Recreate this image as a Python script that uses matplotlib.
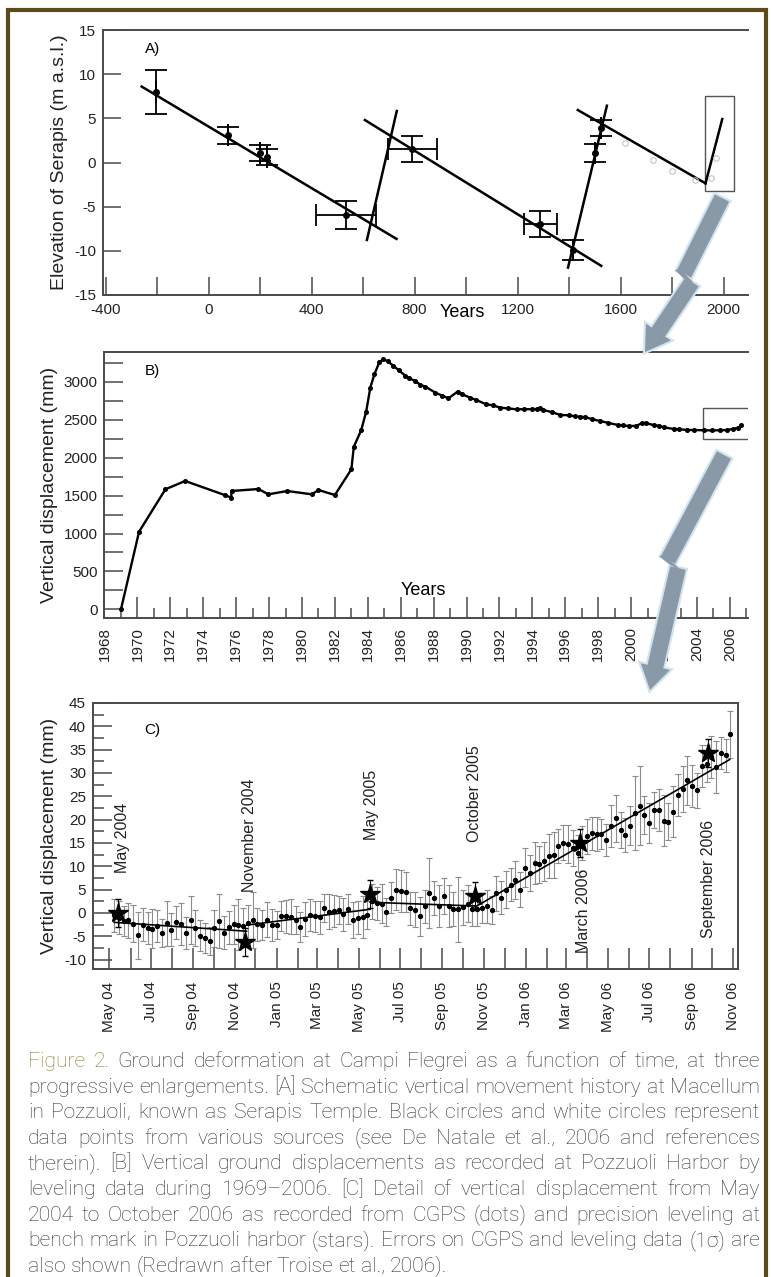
import numpy as np
import pandas as pd
import matplotlib
matplotlib.use("Agg")
import matplotlib.pyplot as plt
import matplotlib.dates as mdates
from matplotlib.ticker import MultipleLocator
from matplotlib.patches import Rectangle, Polygon

plt.rcParams["font.family"] = ["Liberation Sans", "DejaVu Sans"]
plt.rcParams["axes.unicode_minus"] = False

W, H = 771, 1277
SPINE = "#4a4a4a"
GOLD = "#8c7a32"
FRAME = "#5a4a1c"
ARROW = "#8a99a7"
GLOW = "#d3e4ee"

# ---- A) Serapis temple elevation (schematic) ----
a_year = [-205, 75, 198, 228, 534, 791, 1289, 1415, 1500, 1525]
a_elev = [8.0, 3.1, 1.05, 0.66, -5.94, 1.53, -6.96, -9.9, 1.05, 3.9]
a_yerr = [2.5, 0.95, 0.9, 0.9, 1.55, 1.5, 1.5, 1.1, 1.0, 0.95]
a_xerr = [0, 0, 0, 0, 118, 95, 65, 0, 0, 0]
a_open_year = [1618, 1727, 1798, 1888, 1953, 1972]
a_open_elev = [2.2, 0.3, -1.0, -2.0, -1.8, 0.5]
a_seg_x0 = [-260, 615, 607, 1396, 1434, 1930]
a_seg_y0 = [8.6, -8.77, 4.81, -11.9, 5.94, -2.36]
a_seg_x1 = [730, 731, 1525, 1547, 1930, 1995]
a_seg_y1 = [-8.65, 5.83, -11.7, 6.43, -2.36, 4.92]
a_box = (1927, -3.19, 2041, 7.56)

# ---- B) Pozzuoli harbour leveling ----
b_year = [1969.0, 1970.1, 1971.7, 1972.9, 1975.3, 1975.7, 1975.72, 1977.35, 1977.96,
          1979.1, 1980.6, 1981.0, 1982.0, 1983.0, 1983.15, 1983.6, 1983.9, 1984.15,
          1984.4, 1984.7, 1984.95, 1985.2, 1985.55, 1985.9, 1986.27, 1986.5, 1986.87,
          1987.2, 1987.5, 1988.1, 1988.5, 1988.9, 1989.45, 1989.7, 1990.2, 1990.6,
          1991.2, 1991.6, 1992.05, 1992.5, 1993.06, 1993.5, 1994.0, 1994.27, 1994.45,
          1994.67, 1995.2, 1995.7, 1996.2, 1996.6, 1996.9, 1997.2, 1997.6, 1998.1,
          1998.6, 1999.2, 1999.5, 1999.85, 2000.3, 2000.65, 2000.9, 2001.36, 2001.7,
          2002.0, 2002.58, 2002.9, 2003.4, 2003.8, 2004.4, 2004.9, 2005.4, 2005.8,
          2006.2, 2006.5, 2006.7]
b_disp = [0, 1024, 1583, 1693, 1508, 1473, 1561, 1587, 1517,
          1561, 1517, 1574, 1508, 1847, 2145, 2365, 2607, 2924,
          3100, 3260, 3302, 3270, 3214, 3150, 3082, 3050, 3012,
          2960, 2937, 2858, 2820, 2783, 2871, 2840, 2792, 2760,
          2704, 2690, 2660, 2650, 2638, 2640, 2640, 2642, 2655,
          2629, 2600, 2563, 2560, 2545, 2541, 2535, 2510, 2484,
          2460, 2431, 2425, 2418, 2420, 2454, 2455, 2431, 2420,
          2400, 2379, 2375, 2366, 2365, 2362, 2360, 2362, 2365,
          2379, 2395, 2431]
b_box = (2004.36, 2243, 2008.5, 2660)

# ---- C) CGPS (weekly) and leveling stars ----
c_start = "2004-05-08"
c_disp = [-0.5, -1.0, -1.8, -1.6, -2.3, -4.8, -2.5, -3.2, -3.4, -2.8, -4.2, -2.2, -3.6, -2.0,
          -2.3, -4.3, -1.5, -3.2, -4.9, -5.4, -5.9, -3.3, -1.8, -4.2, -3.1, -2.4, -2.5, -2.8,
          -2.2, -1.5, -2.4, -2.6, -1.4, -2.6, -2.6, -0.6, -0.7, -0.8, -1.6, -3.0, -1.3, -0.4,
          -0.7, -0.9, 1.0, 0.3, 0.4, 0.7, -0.3, 0.9, -1.5, -1.0, -0.8, -0.4,
          2.5, 2.1, 2.0, 0.2, 3.3, 5.0, 4.8, 4.5, 1.0, 0.7, -0.7, 1.4, 4.2, 3.2, 1.4, 3.6,
          1.5, 0.8, 0.8, 1.2, 2.0, 0.8,
          0.8, 1.1, 1.4, 0.7, 4.2, 3.3, 5.0, 6.1, 7.1, 5.0, 9.7, 8.6, 10.7, 10.4, 11.1, 12.2,
          12.4, 14.4, 15.1,
          14.8, 13.9, 12.8, 15.0, 16.4, 17.1, 16.9, 16.9, 15.7, 18.7, 20.3, 17.8, 16.7, 18.7,
          21.4, 23.0, 21.0, 19.3, 22.1, 22.1, 19.8, 19.6, 21.7, 25.2, 26.6, 28.4, 27.3, 26.3,
          31.6, 32.0, 33.4, 31.3, 34.3, 33.8, 38.3]
c_err = [3.5, 3.5, 3.2, 3.8, 4.0, 5.0, 3.6, 3.4, 4.2, 3.5, 3.0, 4.8, 3.5, 3.6, 4.5, 3.5, 5.2,
         3.8, 3.3, 3.2, 3.0, 4.0, 5.8, 3.5, 3.6, 4.2, 5.5, 3.8,
         4.0, 6.0, 3.5, 3.2, 3.8, 3.5, 3.0, 3.2, 3.5, 3.8, 3.0, 3.2, 3.6, 3.4, 3.3, 3.5, 3.0,
         3.8, 3.5, 3.0, 3.6, 3.2, 3.8, 3.5, 4.5, 3.0,
         3.8, 3.5, 4.2, 3.0, 3.4, 4.4, 4.5, 4.2, 3.6, 3.8, 4.2, 3.5, 7.5, 3.6, 4.5, 3.8, 4.5,
         3.6, 7.0, 3.8, 4.0, 3.5,
         3.5, 3.2, 3.6, 3.0, 3.8, 3.5, 4.0, 3.6, 4.0, 3.8, 4.2, 3.8, 4.5, 4.0, 4.2, 4.8, 5.0,
         3.6, 3.8,
         4.0, 3.8, 4.0, 3.6, 3.8, 3.5, 3.6, 3.2, 3.4, 4.5, 5.0, 3.8, 3.6, 4.2, 8.0, 8.5, 4.0,
         4.2, 3.8, 4.5, 5.5, 4.0, 5.5, 4.5, 5.0, 5.2, 4.5, 3.8, 4.5, 4.0, 4.5, 5.5, 3.5, 3.5,
         5.0]
star_date = ["2004-05-14", "2004-11-16", "2005-05-18", "2005-10-19", "2006-03-22", "2006-09-25"]
star_disp = [0.0, -6.3, 4.0, 3.7, 15.0, 34.3]
star_err = [3.0, 3.0, 3.0, 3.0, 3.0, 3.0]
event_text = ["May 2004", "November 2004", "May 2005", "October 2005", "March 2006", "September 2006"]
event_date = ["2004-05-20", "2004-11-22", "2005-05-20", "2005-10-18", "2006-03-26", "2006-09-26"]
event_base = [8.6, 4.6, 15.7, 15.3, -8.5, -5.3]
c_seg_d0 = ["2004-05-08", "2004-11-18", "2005-05-18", "2005-10-19"]
c_seg_v0 = [-2.0, -2.6, 2.3, 1.3]
c_seg_d1 = ["2004-11-18", "2005-05-18", "2005-10-19", "2006-10-27"]
c_seg_v1 = [-3.9, 0.8, 1.5, 32.9]

caption = [
    "Figure 2. Ground deformation at Campi Flegrei as a function of time, at three",
    "progressive enlargements. [A] Schematic vertical movement history at Macellum",
    "in Pozzuoli, known as Serapis Temple. Black circles and white circles represent",
    "data points from various sources (see De Natale et al., 2006 and references",
    "therein). [B] Vertical ground displacements as recorded at Pozzuoli Harbor by",
    "leveling data during 1969\u20132006. [C] Detail of vertical displacement from May",
    "2004 to October 2006 as recorded from CGPS (dots) and precision leveling at",
    "bench mark in Pozzuoli harbor (stars). Errors on CGPS and leveling data (1\u03c3) are",
    "also shown (Redrawn after Troise et al., 2006).",
]


def frac(x, y):
    return x / W, 1 - y / H


def style(ax, ylabel):
    for s in ax.spines.values():
        s.set_color(SPINE)
        s.set_linewidth(1.4)
    ax.tick_params(which="both", direction="in", color=SPINE, width=1.1, labelsize=11,
                   labelcolor="#222222")
    ax.set_ylabel(ylabel, fontsize=14, color="#222222")


fig = plt.figure(figsize=(W / 100, H / 100), dpi=100)
fig.patch.set_facecolor("white")

# ---------------- A ----------------
axA = fig.add_axes([103 / W, 1 - 295 / H, 645 / W, 265 / H])
style(axA, "Elevation of Serapis (m a.s.l.)")
axA.spines["right"].set_visible(False)
for x0, y0, x1, y1 in zip(a_seg_x0, a_seg_y0, a_seg_x1, a_seg_y1):
    axA.plot([x0, x1], [y0, y1], color="black", lw=1.8)
axA.errorbar(a_year, a_elev, yerr=a_yerr, xerr=a_xerr, fmt="o", ms=4, color="black",
             ecolor="black", elinewidth=1.3, capsize=8, capthick=1.3)
axA.plot(a_open_year, a_open_elev, "o", ms=4, mfc="none", mec="#c4c4c4", mew=0.8)
axA.add_patch(Rectangle((a_box[0], a_box[1]), a_box[2] - a_box[0], a_box[3] - a_box[1],
                        fill=False, ec="#555555", lw=1.0))
axA.set_xlim(-410, 2095)
axA.set_ylim(-15, 15)
axA.xaxis.set_major_locator(MultipleLocator(400))
axA.xaxis.set_minor_locator(MultipleLocator(200))
axA.yaxis.set_major_locator(MultipleLocator(5))
axA.tick_params(which="both", length=13, pad=6)
axA.tick_params(axis="y", pad=5)
axA.set_xlabel("Years", fontsize=13)
axA.xaxis.set_label_coords(0.557, -0.033)
axA.text(0.065, 0.93, "A)", transform=axA.transAxes, fontsize=11, va="center")

# ---------------- B ----------------
axB = fig.add_axes([104.5 / W, 1 - 617.7 / H, 643.5 / W, 265.4 / H])
style(axB, "Vertical displacement (mm)")
axB.spines["right"].set_visible(False)
axB.plot(b_year, b_disp, "-o", color="black", lw=1.7, ms=2.6)
axB.add_patch(Rectangle((b_box[0], b_box[1]), b_box[2] - b_box[0], b_box[3] - b_box[1],
                        fill=False, ec="#555555", lw=1.0))
axB.set_xlim(1968, 2007.1)
axB.set_ylim(-110, 3390)
axB.xaxis.set_major_locator(MultipleLocator(2))
axB.xaxis.set_minor_locator(MultipleLocator(1))
axB.yaxis.set_major_locator(MultipleLocator(500))
axB.yaxis.set_minor_locator(MultipleLocator(250))
axB.tick_params(axis="x", which="major", length=15, pad=7, labelrotation=90)
axB.tick_params(axis="x", which="minor", length=7)
axB.tick_params(axis="y", which="both", length=14, pad=5)
axB.set_xlabel("Years", fontsize=13)
axB.xaxis.set_label_coords(0.495, 0.135)
axB.text(0.063, 0.93, "B)", transform=axB.transAxes, fontsize=11, va="center")

# ---------------- C ----------------
axC = fig.add_axes([93 / W, 1 - 969 / H, 645 / W, 266 / H])
style(axC, "Vertical displacement (mm)")
c_dates = pd.date_range(c_start, periods=len(c_disp), freq="7D")
axC.errorbar(c_dates, c_disp, yerr=c_err, fmt="o", ms=2.8, color="black", ecolor="#8c8c8c",
             elinewidth=0.8, capsize=2.2, capthick=0.8, zorder=2)
for d0, v0, d1, v1 in zip(c_seg_d0, c_seg_v0, c_seg_d1, c_seg_v1):
    axC.plot([pd.Timestamp(d0), pd.Timestamp(d1)], [v0, v1], color="black", lw=1.2, zorder=3)
axC.errorbar(pd.to_datetime(star_date), star_disp, yerr=star_err, fmt="*", ms=15,
             color="black", ecolor="black", elinewidth=0.8, capsize=2.5, zorder=4)
for txt, d, b in zip(event_text, event_date, event_base):
    axC.text(pd.Timestamp(d), b, txt, rotation=90, ha="center", va="bottom", fontsize=11.5,
             color="#222222")
axC.set_xlim(pd.Timestamp("2004-04-07"), pd.Timestamp("2006-11-08"))
axC.set_ylim(-12, 45)
axC.xaxis.set_major_locator(mdates.MonthLocator(bymonth=[1, 3, 5, 7, 9, 11]))
axC.xaxis.set_minor_locator(mdates.MonthLocator())
axC.xaxis.set_major_formatter(mdates.DateFormatter("%b %y"))
axC.yaxis.set_major_locator(MultipleLocator(5))
axC.yaxis.set_minor_locator(MultipleLocator(2.5))
axC.tick_params(axis="x", which="both", length=15, pad=9, labelrotation=90)
axC.tick_params(axis="y", which="major", length=14, pad=5)
axC.tick_params(axis="y", which="minor", length=8)
axC.text(0.08, 0.90, "C)", transform=axC.transAxes, fontsize=11, va="center")


# ---------------- arrows (lightning style) ----------------
def bolt(p0, k0, k1, tip, w=16, hw=30, hl=24):
    for (a, b, head) in [(p0, k0, False), (k1, tip, True)]:
        a = np.array(a, float)
        b = np.array(b, float)
        d = (b - a) / np.hypot(*(b - a))
        n = np.array([-d[1], d[0]])
        end = b - d * hl if head else b
        shaft = [a + n * w / 2, end + n * w / 2, end - n * w / 2, a - n * w / 2]
        pts = shaft if not head else [a + n * w / 2, end + n * w / 2, end + n * hw / 2, b,
                                      end - n * hw / 2, end - n * w / 2, a - n * w / 2]
        for c, lw, z in [(GLOW, 3, 8), (ARROW, 0, 9)]:
            fig.patches.append(Polygon([frac(*p) for p in pts], closed=True, fc=c, ec=c, lw=lw,
                                       transform=fig.transFigure, zorder=z))
    fig.patches.append(Polygon([frac(*k0), frac(*k1), frac(k1[0] - 8, k1[1] - 4),
                                frac(k0[0] - 8, k0[1] - 4)],
                               closed=True, fc=ARROW, ec=ARROW, transform=fig.transFigure, zorder=9))


bolt((722, 198), (684, 274), (692, 282), (645, 352))
bolt((724, 455), (668, 560), (678, 568), (650, 690))

# ---------------- frame ----------------
fig.patches.append(Rectangle(frac(8, 1300), (766 - 8) / W, (1300 - 10) / H, fill=False, ec=FRAME,
                             lw=3, transform=fig.transFigure, zorder=10))

# ---------------- caption (justified) ----------------
CAP_FONT = ["Roboto", "Liberation Sans"]
CAP_W = "light"
fig.canvas.draw()
rend = fig.canvas.get_renderer()


def text_w(s, fs):
    t = fig.text(0, 0, s, fontsize=fs, family=CAP_FONT, weight=CAP_W)
    w = t.get_window_extent(rend).width
    t.remove()
    return w


x_left, x_right = 28, 760
nat = [text_w(l, 10) for l in caption[:-1]]
cap_fs = 10 * (x_right - x_left) / max(nat) * 0.995
space = text_w("a a", cap_fs) - text_w("aa", cap_fs)
y0, dy = 1067, 25.6
for i, line in enumerate(caption):
    words = line.split(" ")
    widths = [text_w(w, cap_fs) for w in words]
    last = i == len(caption) - 1
    gap = space if last else (x_right - x_left - sum(widths)) / (len(words) - 1)
    x = x_left
    for j, (w, ww) in enumerate(zip(words, widths)):
        col = GOLD if (i == 0 and j < 2) else "#333333"
        fig.text(x / W, 1 - (y0 + i * dy) / H, w, fontsize=cap_fs, family=CAP_FONT,
                 weight=CAP_W, color=col, va="baseline", ha="left")
        x += ww + gap

fig.savefig("out.png", dpi=100)
